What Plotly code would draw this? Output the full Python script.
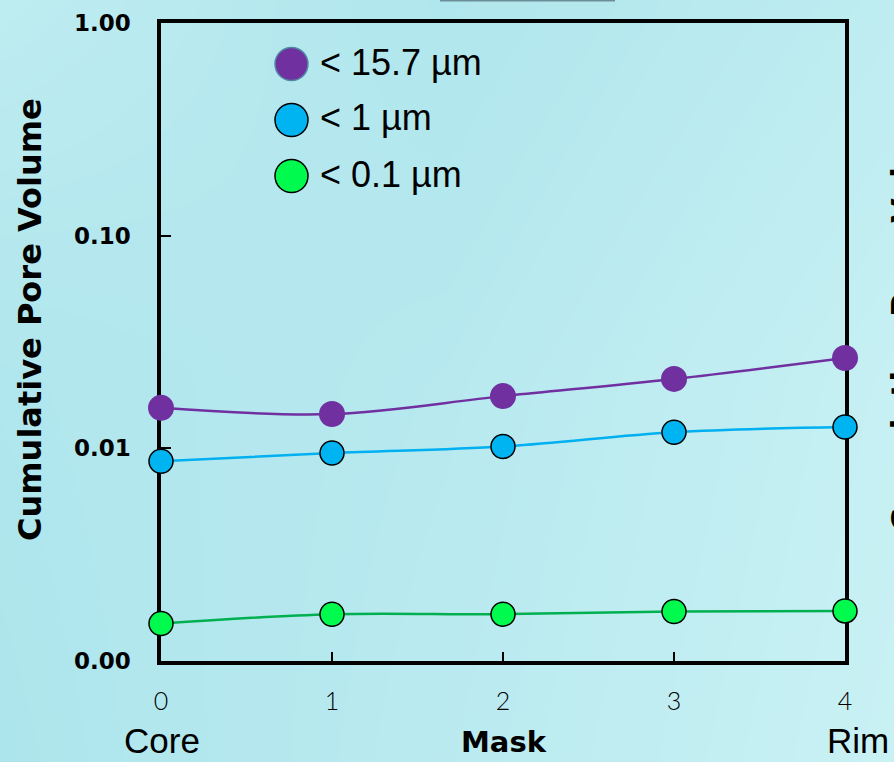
import plotly.graph_objects as go

# ---- data -------------------------------------------------------------
positions = [0, 1, 2, 3, 4]
x_tick_text = ["0", "1", "2", "3", "4"]

pv_lt_15_7 = [0.0155, 0.0145, 0.0176, 0.0212, 0.0266]   # pores < 15.7 µm
pv_lt_1 = [0.0087, 0.0095, 0.0102, 0.0119, 0.0126]      # pores < 1 µm
pv_lt_0_1 = [0.00150, 0.00166, 0.00166, 0.00171, 0.00172]  # pores < 0.1 µm

series_names = ["< 15.7 µm", "< 1 µm", "< 0.1 µm"]
y_tick_vals = [0.001, 0.01, 0.1, 1]
y_tick_text = ["0.00", "0.01", "0.10", "1.00"]

# ---- figure geometry (pixels) ----------------------------------------
W, H = 894, 762
BOX_L, BOX_R, BOX_T, BOX_B = 161, 845, 23, 661


def px(x):
    return x / W


def py(y):
    return 1 - y / H


PURPLE = "#7030a0"
BLUE_FILL, BLUE_LINE = "#00b4f2", "#00b0f0"
GREEN_FILL, GREEN_LINE = "#00fa4e", "#00b050"

fig = go.Figure()

# soft cyan backdrop filling the whole canvas
fig.add_trace(go.Heatmap(
    x=[0, 0.5, 1], y=[0, 0.5, 1],
    z=[[0.0, 0.45, 1.0],
       [0.1, 0.35, 0.9],
       [0.6, 0.1, 0.6]],
    zsmooth="best", showscale=False, hoverinfo="skip",
    colorscale=[[0, "#ade5ec"], [1, "#c9f1f4"]],
    xaxis="x", yaxis="y",
))

series = [
    (pv_lt_15_7, PURPLE, PURPLE, PURPLE, 26, 0),
    (pv_lt_1, BLUE_LINE, BLUE_FILL, "black", 24, 1.5),
    (pv_lt_0_1, GREEN_LINE, GREEN_FILL, "black", 24, 1.5),
]
for (vals, lcol, fcol, ocol, size, ow), name in zip(series, series_names):
    fig.add_trace(go.Scatter(
        x=positions, y=vals, name=name, mode="lines+markers",
        line=dict(color=lcol, width=2.5, shape="spline", smoothing=1),
        marker=dict(color=fcol, size=size, line=dict(color=ocol, width=ow)),
        cliponaxis=False, showlegend=False,
        xaxis="x2", yaxis="y2",
    ))

# hand-built legend block
legend_y = [64, 120, 176]
legend_fill = [PURPLE, BLUE_FILL, GREEN_FILL]
legend_edge = ["#4f8aa0", "black", "black"]
shapes = []
annotations = []
for name, yy, fc, ec in zip(series_names, legend_y, legend_fill, legend_edge):
    shapes.append(dict(
        type="circle", xref="paper", yref="paper",
        xsizemode="pixel", ysizemode="pixel",
        xanchor=px(291.5), yanchor=py(yy),
        x0=-16.5, x1=16.5, y0=-16.5, y1=16.5,
        fillcolor=fc, line=dict(color=ec, width=1.5),
    ))
    annotations.append(dict(
        text=name, xref="paper", yref="paper", x=px(318), y=py(yy - 2),
        xanchor="left", yanchor="middle", showarrow=False,
        font=dict(family="Liberation Sans, Arial", size=36, color="black"),
    ))

# cut-off title box edge at the top
shapes.append(dict(type="line", xref="paper", yref="paper",
                   x0=px(440), x1=px(615), y0=py(0.6), y1=py(0.6),
                   line=dict(color="#6c8e98", width=2)))

title_font = dict(family="DejaVu Sans", size=32, color="black", weight="bold")
annotations += [
    dict(text="Cumulative Pore Volume", xref="paper", yref="paper",
         x=px(30), y=py(320), textangle=-90, showarrow=False,
         xanchor="center", yanchor="middle", font=title_font),
    dict(text="Cumulative Pore Volume", xref="paper", yref="paper",
         x=px(903), y=py(310), textangle=-90, showarrow=False,
         xanchor="center", yanchor="middle", font=title_font),
    dict(text="Core", xref="paper", yref="paper", x=px(162), y=py(740),
         showarrow=False, xanchor="center", yanchor="middle",
         font=dict(family="Liberation Sans, Arial", size=35, color="black")),
    dict(text="Rim", xref="paper", yref="paper", x=px(858), y=py(740),
         showarrow=False, xanchor="center", yanchor="middle",
         font=dict(family="Liberation Sans, Arial", size=35, color="black")),
    dict(text="Mask", xref="paper", yref="paper", x=px(504), y=py(742),
         showarrow=False, xanchor="center", yanchor="middle",
         font=dict(family="DejaVu Sans", size=29, color="black", weight="bold")),
]

fig.update_layout(
    width=W, height=H,
    margin=dict(l=0, r=0, t=0, b=0, pad=0, autoexpand=False),
    paper_bgcolor="#b5e8ee",
    plot_bgcolor="rgba(0,0,0,0)",
    showlegend=False,
    shapes=shapes,
    annotations=annotations,
    xaxis=dict(domain=[0, 1], range=[0, 1], visible=False, fixedrange=True,
               automargin=False),
    yaxis=dict(domain=[0, 1], range=[0, 1], visible=False, fixedrange=True,
               automargin=False),
    xaxis2=dict(
        domain=[px(BOX_L), px(BOX_R)], anchor="y2", range=[0, 4],
        tickvals=positions, ticktext=x_tick_text,
        ticks="inside", ticklen=9, tickwidth=1.5, tickcolor="black",
        showline=True, linewidth=3.5, linecolor="black", mirror=True,
        showgrid=False, zeroline=False, layer="below traces", automargin=False,
        tickfont=dict(family="Lato", size=25, color="black", weight=300),
        ticklabelstandoff=15,
    ),
    yaxis2=dict(
        domain=[py(BOX_B), py(BOX_T)], anchor="x2", type="log", range=[-3, 0],
        tickvals=y_tick_vals, ticktext=y_tick_text,
        ticks="inside", ticklen=10, tickwidth=1.5, tickcolor="black",
        showline=True, linewidth=3.5, linecolor="black", mirror=True,
        showgrid=False, zeroline=False, layer="below traces", automargin=False,
        tickfont=dict(family="DejaVu Sans", size=23, color="black", weight="bold"),
        ticklabelstandoff=22,
    ),
)

fig.write_html("out.html")
